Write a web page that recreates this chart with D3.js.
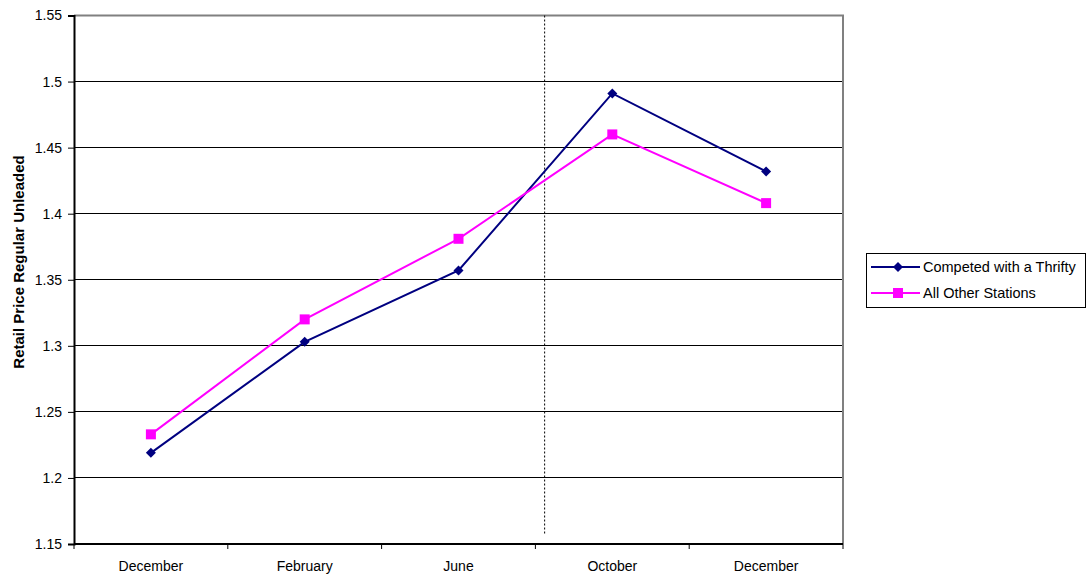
<!DOCTYPE html>
<html>
<head>
<meta charset="utf-8">
<script src="https://cdn.jsdelivr.net/npm/d3@7"></script>
<style>
  body { margin: 0; background: #fff; }
  svg { font-family: "Liberation Sans", Arial, sans-serif; }
</style>
</head>
<body>
<svg id="chart" width="1086" height="576"></svg>
<script>
// chart data
const months = ['December', 'February', 'June', 'October', 'December'];
const thrifty = [1.219, 1.303, 1.357, 1.491, 1.432];
const others = [1.233, 1.320, 1.381, 1.460, 1.408];
const yTicks = [1.15, 1.2, 1.25, 1.3, 1.35, 1.4, 1.45, 1.5, 1.55];
const seriesNames = ['Competed with a Thrifty', 'All Other Stations'];
const dividerAt = 3.06; // in category units from left edge

const svg = d3.select('#chart');
const margin = {left: 74, top: 15.5, right: 243, bottom: 32};
const W = 1086, H = 576;
const x0 = margin.left, x1 = W - margin.right;
const y0 = H - margin.bottom, y1 = margin.top;

// index based band scale (months repeat)
const x = d3.scaleBand().domain(d3.range(months.length)).range([x0, x1]);
const y = d3.scaleLinear().domain([1.15, 1.55]).range([y0, y1]);

// grid lines
svg.append('g').selectAll('line')
	.data(yTicks.slice(1, -1))
	.join('line')
	.attr('x1', x0).attr('x2', x1)
	.attr('y1', d => y(d)).attr('y2', d => y(d))
	.attr('stroke', '#000').attr('stroke-width', 1)
	.attr('shape-rendering', 'crispEdges');

// top and right border (gray)
svg.append('path')
	.attr('d', `M${x0},${y1}H${x1}V${y0}`)
	.attr('fill', 'none').attr('stroke', '#808080').attr('stroke-width', 2);

// divider
svg.append('line')
	.attr('x1', x0 + x.step() * dividerAt).attr('x2', x0 + x.step() * dividerAt)
	.attr('y1', y1).attr('y2', y0 - 9)
	.attr('stroke', '#000').attr('stroke-width', 1).attr('stroke-dasharray', '2,2');

// y axis
const yAxis = svg.append('g')
	.attr('transform', `translate(${x0},0)`)
	.call(d3.axisLeft(y).tickValues(yTicks).tickSize(6).tickPadding(6).tickFormat(d3.format('')));
yAxis.select('.domain').attr('stroke-width', 2);
yAxis.selectAll('text').attr('font-size', 14).attr('fill', '#000');

// x axis, ticks on band edges
const xAxis = svg.append('g').attr('transform', `translate(0,${y0})`);
xAxis.append('line').attr('x1', x0).attr('x2', x1).attr('stroke', '#000').attr('stroke-width', 2);
xAxis.selectAll('.tk')
	.data(d3.range(months.length + 1))
	.join('line')
	.attr('x1', i => x0 + i * x.step()).attr('x2', i => x0 + i * x.step())
	.attr('y1', 0).attr('y2', 5).attr('stroke', '#000');
xAxis.selectAll('text')
	.data(months)
	.join('text')
	.attr('x', (d, i) => x(i) + x.bandwidth() / 2)
	.attr('y', 27)
	.attr('text-anchor', 'middle')
	.attr('font-size', 14)
	.text(d => d);

// y label
svg.append('text')
	.attr('transform', 'translate(24,262) rotate(-90)')
	.attr('text-anchor', 'middle')
	.attr('font-size', 15).attr('font-weight', 'bold')
	.text('Retail Price Regular Unleaded');

const colors = ['#000080', '#FF00FF'];
const line = d3.line().x((d, i) => x(i) + x.bandwidth() / 2).y(d => y(d));

function marker(g, kind, color) {
	if (kind === 0) {
		g.append('path').attr('d', 'M0,-5L5,0L0,5L-5,0Z').attr('fill', color);
	} else {
		g.append('rect').attr('x', -5).attr('y', -5).attr('width', 10).attr('height', 10).attr('fill', color);
	}
}

[thrifty, others].forEach((vals, k) => {
	svg.append('path').datum(vals)
		.attr('d', line)
		.attr('fill', 'none').attr('stroke', colors[k]).attr('stroke-width', 2);
	vals.forEach((v, i) => {
		const g = svg.append('g').attr('transform', `translate(${x(i) + x.bandwidth() / 2},${y(v)})`);
		marker(g, k, colors[k]);
	});
});

// legend
const lg = svg.append('g').attr('transform', 'translate(866,253)');
lg.append('rect').attr('x', 0.5).attr('y', 0.5).attr('width', 219).attr('height', 54)
	.attr('fill', '#fff').attr('stroke', '#000');
seriesNames.forEach((name, k) => {
	const yy = 14 + k * 26;
	lg.append('line').attr('x1', 5).attr('x2', 54).attr('y1', yy).attr('y2', yy)
		.attr('stroke', colors[k]).attr('stroke-width', 2);
	marker(lg.append('g').attr('transform', `translate(32,${yy})`), k, colors[k]);
	lg.append('text').attr('x', 57).attr('y', yy + 5).attr('font-size', 14.5).text(name);
});
</script>
</body>
</html>
